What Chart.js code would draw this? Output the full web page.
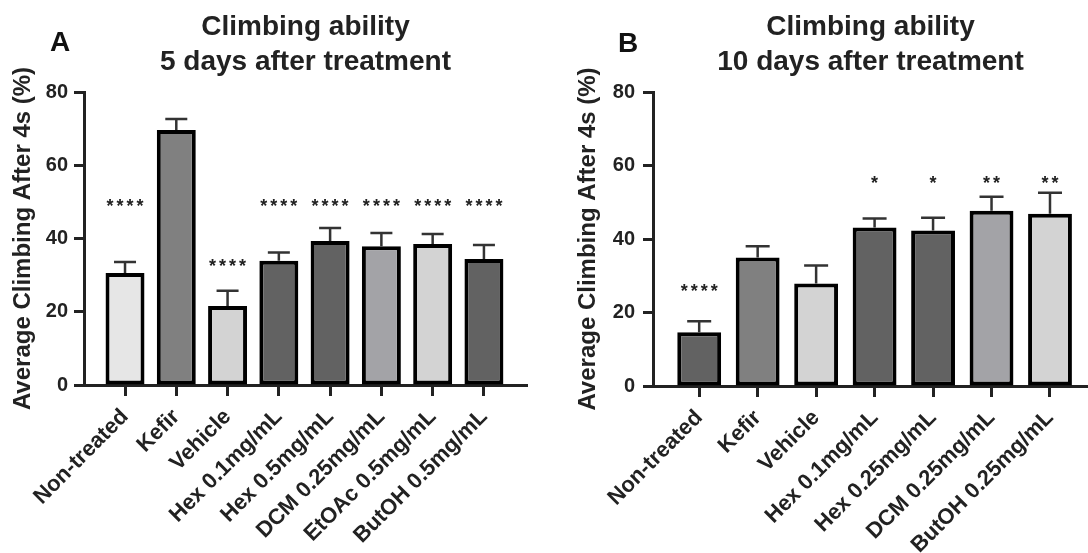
<!DOCTYPE html>
<html>
<head>
<meta charset="utf-8">
<script src="https://cdn.jsdelivr.net/npm/chart.js@4/dist/chart.umd.min.js"></script>
<style>
    body { margin: 0; background: #fff; }
    #wrap { display: flex; width: 1088px; height: 553px; }
    canvas { display: block; }
</style>
</head>
<body>
<div id="wrap">
    <canvas id="chartA" width="544" height="553"></canvas>
    <canvas id="chartB" width="544" height="553"></canvas>
</div>
<script>
// panel A: 5 days after treatment
const categoriesA = ["Non-treated", "Kefir", "Vehicle", "Hex 0.1mg/mL", "Hex 0.5mg/mL", "DCM 0.25mg/mL", "EtOAc 0.5mg/mL", "ButOH 0.5mg/mL"];
const meansA = [30.6, 69.6, 21.6, 33.9, 39.3, 37.9, 38.5, 34.4];
const errorsA = [3.0, 3.0, 4.1, 2.3, 3.6, 3.6, 2.7, 3.8];
const starsA = ["****", "", "****", "****", "****", "****", "****", "****"];
const starLevelsA = [50, null, 33.6, 50, 50, 50, 50, 50];

// panel B: 10 days after treatment
const categoriesB = ["Non-treated", "Kefir", "Vehicle", "Hex 0.1mg/mL", "Hex 0.25mg/mL", "DCM 0.25mg/mL", "ButOH 0.25mg/mL"];
const meansB = [14.6, 35.0, 27.9, 43.1, 42.3, 47.7, 46.9];
const errorsB = [3.0, 3.0, 4.9, 2.5, 3.5, 3.8, 5.7];
const starsB = ["****", "", "", "*", "*", "**", "**"];
const starLevelsB = [26.8, null, null, 56.4, 56.4, 56.4, 56.4];

const yTicks = [0, 20, 40, 60, 80];

const colorsA = ["#e6e6e6", "#808080", "#d3d3d3", "#626262", "#626262", "#a3a3a7", "#d3d3d3", "#626262"];
const colorsB = ["#626262", "#808080", "#d3d3d3", "#626262", "#626262", "#a3a3a7", "#d3d3d3"];

const FONT = "'Liberation Sans', Arial, sans-serif";

const extrasPlugin =
{
    id: "extras",
    beforeDatasetsDraw(chart, args, opts)
    {
        const {ctx, scales: {x, y}} = chart;
        ctx.save();
        ctx.strokeStyle = "#333";
        ctx.lineWidth = 2.5;
        opts.means.forEach((m, i) =>
        {
            const px = x.getPixelForValue(i);
            const base = y.getPixelForValue(m);
            const top = y.getPixelForValue(m + opts.errors[i]);
            ctx.beginPath();
            ctx.moveTo(px, base);
            ctx.lineTo(px, top);
            ctx.moveTo(px - opts.capHalf, top);
            ctx.lineTo(px + opts.capHalf, top);
            ctx.stroke();
        });
        ctx.restore();
    },
    afterDraw(chart, args, opts)
    {
        const {ctx, scales: {x, y}} = chart;
        ctx.save();
        ctx.fillStyle = "#222";
        ctx.font = "bold 18px " + FONT;
        ctx.textAlign = "center";
        ctx.textBaseline = "middle";
        ctx.letterSpacing = "3px";
        opts.stars.forEach((s, i) =>
        {
            if(!s) return;
            ctx.fillText(s, x.getPixelForValue(i) + 1.5, y.getPixelForValue(opts.starLevels[i]) + 5);
        });
        ctx.letterSpacing = "0px";
        ctx.fillStyle = "#111";
        ctx.font = "bold 28px " + FONT;
        ctx.fillText(opts.letter, opts.letterX, opts.letterY);
        ctx.restore();
    }
};

function makeChart(canvasId, cfg)
{
    const n = cfg.categories.length;
    return new Chart(document.getElementById(canvasId),
    {
        type: "bar",
        data:
        {
            datasets:
            [
                {
                    data: cfg.means.map((v, i) => ({x: i, y: v})),
                    backgroundColor: cfg.colors,
                    borderColor: "#000",
                    borderWidth: 4,
                    borderSkipped: false,
                    categoryPercentage: 1,
                    barPercentage: cfg.barPct,
                }
            ]
        },
        options:
        {
            responsive: false,
            animation: false,
            events: [],
            layout: { padding: { left: 0, top: 0, bottom: 0, right: cfg.padRight } },
            plugins:
            {
                legend: { display: false },
                tooltip: { enabled: false },
                title:
                {
                    display: true,
                    fullSize: false,
                    text: cfg.title,
                    color: "#222",
                    font: { family: FONT, size: 28, weight: "bold", lineHeight: 1.25 },
                    padding: { top: 10, bottom: 12 },
                },
                extras:
                {
                    means: cfg.means,
                    errors: cfg.errors,
                    stars: cfg.stars,
                    starLevels: cfg.starLevels,
                    capHalf: cfg.capHalf,
                    letter: cfg.letter,
                    letterX: cfg.letterX,
                    letterY: cfg.letterY,
                }
            },
            scales:
            {
                x:
                {
                    type: "linear",
                    offset: false,
                    min: cfg.xMin,
                    max: cfg.xMax,
                    grid: { offset: false, drawOnChartArea: false, drawTicks: true, tickLength: 11, tickWidth: 3, tickColor: "#222" },
                    border: { color: "#222", width: 3 },
                    ticks:
                    {
                        stepSize: 1,
                        includeBounds: false,
                        autoSkip: false,
                        maxRotation: 45,
                        minRotation: 45,
                        padding: 8,
                        color: "#222",
                        font: { family: FONT, size: 22, weight: "bold" },
                        callback: (v) => Number.isInteger(v) && v >= 0 && v < n ? cfg.categories[v] : "",
                    },
                    afterBuildTicks: (s) => { s.ticks = s.ticks.filter(t => Number.isInteger(t.value) && t.value >= 0 && t.value < n); },
                    afterFit: (s) => { s.height = 553 - cfg.bottom; s.paddingLeft = 0; s.paddingRight = 0; },
                },
                y:
                {
                    min: 0,
                    max: 80,
                    grid: { drawOnChartArea: false, drawTicks: true, tickLength: 10, tickWidth: 3, tickColor: "#222" },
                    border: { color: "#222", width: 3 },
                    afterBuildTicks: (s) => { s.ticks = yTicks.map(v => ({value: v})); },
                    ticks:
                    {
                        padding: cfg.yTickPad,
                        color: "#222",
                        font: { family: FONT, size: 20, weight: "bold" },
                    },
                    title:
                    {
                        display: true,
                        text: "Average Climbing After 4s (%)",
                        color: "#222",
                        font: { family: FONT, size: 24, weight: "bold", lineHeight: 1.2 },
                        padding: { top: cfg.yTitlePad, bottom: 0 },
                    },
                    afterFit: (s) => { s.width = cfg.left; s.paddingTop = 0; s.paddingBottom = 0; },
                }
            }
        },
        plugins: [extrasPlugin]
    });
}

makeChart("chartA",
{
    categories: categoriesA, means: meansA, errors: errorsA, stars: starsA, starLevels: starLevelsA,
    colors: colorsA, title: ["Climbing ability", "5 days after treatment"],
    xMin: -0.8, xMax: 7.84, barPct: 0.76, capHalf: 11, padRight: 17, left: 84, bottom: 385,
    yTickPad: 6, yTitlePad: 9, letter: "A", letterX: 60, letterY: 43,
});

makeChart("chartB",
{
    categories: categoriesB, means: meansB, errors: errorsB, stars: starsB, starLevels: starLevelsB,
    colors: colorsB, title: ["Climbing ability", "10 days after treatment"],
    xMin: -0.79, xMax: 6.65, barPct: 0.75, capHalf: 12, padRight: 0, left: 109, bottom: 386,
    yTickPad: 8, yTitlePad: 30, letter: "B", letterX: 84, letterY: 44,
});
</script>
</body>
</html>
